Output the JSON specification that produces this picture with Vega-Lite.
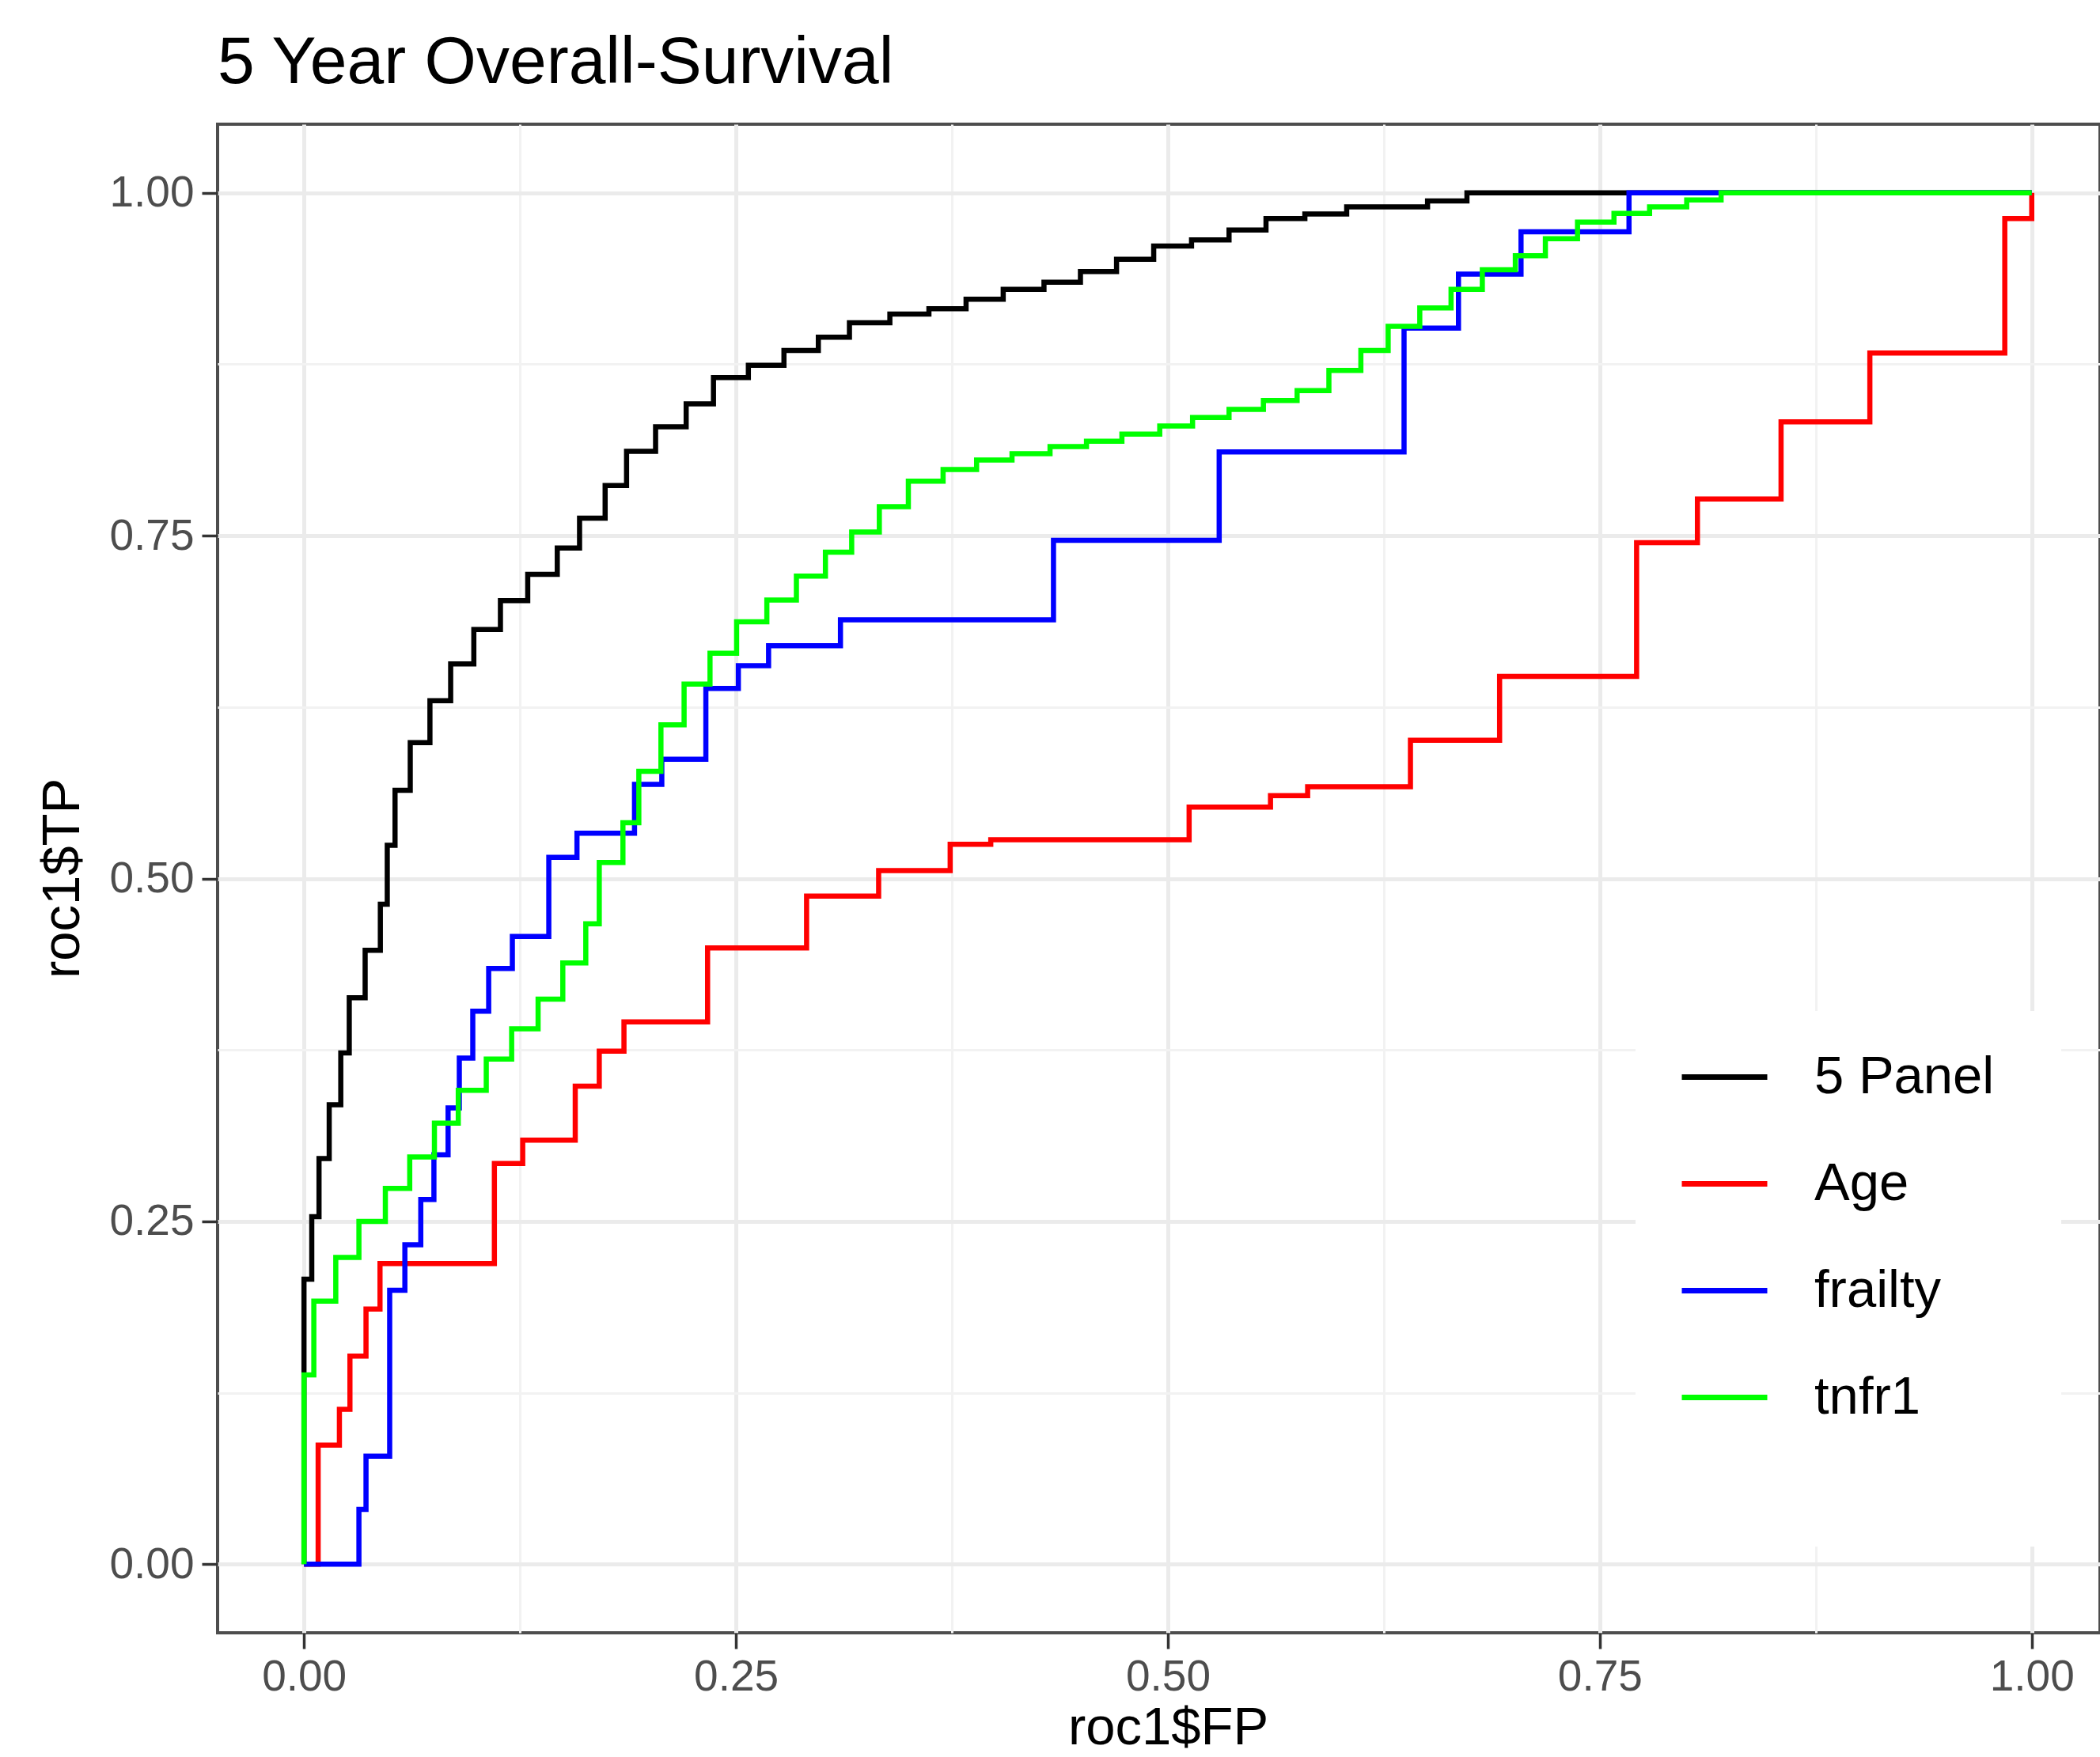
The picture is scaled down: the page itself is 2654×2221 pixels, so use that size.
{
  "$schema": "https://vega.github.io/schema/vega-lite/v6.json",
  "width": 2379,
  "height": 1907,
  "autosize": {"type": "none"},
  "padding": {"left": 275, "top": 157, "right": 0, "bottom": 157},
  "background": "white",
  "title": {"text": "5 Year Overall-Survival", "anchor": "start", "frame": "group", "font": "Liberation Sans", "fontSize": 84, "fontWeight": "normal", "color": "#000000", "baseline": "alphabetic", "offset": -32},
  "data": {"values": [
    {"s":"5 Panel","i":0,"fp":0,"tp":0},
    {"s":"5 Panel","i":1,"fp":0,"tp":0.2078},
    {"s":"5 Panel","i":2,"fp":0.0045,"tp":0.2534},
    {"s":"5 Panel","i":3,"fp":0.0087,"tp":0.2958},
    {"s":"5 Panel","i":4,"fp":0.0146,"tp":0.335},
    {"s":"5 Panel","i":5,"fp":0.0213,"tp":0.3728},
    {"s":"5 Panel","i":6,"fp":0.0262,"tp":0.4131},
    {"s":"5 Panel","i":7,"fp":0.0354,"tp":0.4476},
    {"s":"5 Panel","i":8,"fp":0.0442,"tp":0.4813},
    {"s":"5 Panel","i":9,"fp":0.0482,"tp":0.5242},
    {"s":"5 Panel","i":10,"fp":0.0527,"tp":0.5643},
    {"s":"5 Panel","i":11,"fp":0.0615,"tp":0.599},
    {"s":"5 Panel","i":12,"fp":0.0729,"tp":0.6296},
    {"s":"5 Panel","i":13,"fp":0.0849,"tp":0.6565},
    {"s":"5 Panel","i":14,"fp":0.0983,"tp":0.6816},
    {"s":"5 Panel","i":15,"fp":0.1137,"tp":0.7026},
    {"s":"5 Panel","i":16,"fp":0.1295,"tp":0.7218},
    {"s":"5 Panel","i":17,"fp":0.1466,"tp":0.741},
    {"s":"5 Panel","i":18,"fp":0.1595,"tp":0.7628},
    {"s":"5 Panel","i":19,"fp":0.1743,"tp":0.7866},
    {"s":"5 Panel","i":20,"fp":0.1867,"tp":0.8115},
    {"s":"5 Panel","i":21,"fp":0.2035,"tp":0.8294},
    {"s":"5 Panel","i":22,"fp":0.2212,"tp":0.8461},
    {"s":"5 Panel","i":23,"fp":0.237,"tp":0.8653},
    {"s":"5 Panel","i":24,"fp":0.2572,"tp":0.8742},
    {"s":"5 Panel","i":25,"fp":0.2778,"tp":0.885},
    {"s":"5 Panel","i":26,"fp":0.2977,"tp":0.8947},
    {"s":"5 Panel","i":27,"fp":0.3157,"tp":0.9052},
    {"s":"5 Panel","i":28,"fp":0.3391,"tp":0.9116},
    {"s":"5 Panel","i":29,"fp":0.3617,"tp":0.9155},
    {"s":"5 Panel","i":30,"fp":0.3832,"tp":0.9224},
    {"s":"5 Panel","i":31,"fp":0.4047,"tp":0.9296},
    {"s":"5 Panel","i":32,"fp":0.4283,"tp":0.9348},
    {"s":"5 Panel","i":33,"fp":0.4494,"tp":0.9425},
    {"s":"5 Panel","i":34,"fp":0.4703,"tp":0.9515},
    {"s":"5 Panel","i":35,"fp":0.4918,"tp":0.9611},
    {"s":"5 Panel","i":36,"fp":0.5137,"tp":0.9657},
    {"s":"5 Panel","i":37,"fp":0.5354,"tp":0.9729},
    {"s":"5 Panel","i":38,"fp":0.5568,"tp":0.9812},
    {"s":"5 Panel","i":39,"fp":0.5793,"tp":0.9845},
    {"s":"5 Panel","i":40,"fp":0.6035,"tp":0.9897},
    {"s":"5 Panel","i":41,"fp":0.6503,"tp":0.994},
    {"s":"5 Panel","i":42,"fp":0.6731,"tp":1.0},
    {"s":"5 Panel","i":43,"fp":1.0,"tp":1.0},
    {"s":"Age","i":0,"fp":0,"tp":0},
    {"s":"Age","i":1,"fp":0.0082,"tp":0.0868},
    {"s":"Age","i":2,"fp":0.0205,"tp":0.113},
    {"s":"Age","i":3,"fp":0.0266,"tp":0.1518},
    {"s":"Age","i":4,"fp":0.0359,"tp":0.186},
    {"s":"Age","i":5,"fp":0.044,"tp":0.2192},
    {"s":"Age","i":6,"fp":0.1102,"tp":0.2922},
    {"s":"Age","i":7,"fp":0.1266,"tp":0.3092},
    {"s":"Age","i":8,"fp":0.157,"tp":0.3486},
    {"s":"Age","i":9,"fp":0.1709,"tp":0.3741},
    {"s":"Age","i":10,"fp":0.1852,"tp":0.3955},
    {"s":"Age","i":11,"fp":0.2336,"tp":0.4494},
    {"s":"Age","i":12,"fp":0.2909,"tp":0.4872},
    {"s":"Age","i":13,"fp":0.3326,"tp":0.5057},
    {"s":"Age","i":14,"fp":0.374,"tp":0.525},
    {"s":"Age","i":15,"fp":0.3975,"tp":0.5283},
    {"s":"Age","i":16,"fp":0.5123,"tp":0.552},
    {"s":"Age","i":17,"fp":0.5594,"tp":0.5604},
    {"s":"Age","i":18,"fp":0.5809,"tp":0.5669},
    {"s":"Age","i":19,"fp":0.6404,"tp":0.6008},
    {"s":"Age","i":20,"fp":0.692,"tp":0.6474},
    {"s":"Age","i":21,"fp":0.7713,"tp":0.7448},
    {"s":"Age","i":22,"fp":0.8065,"tp":0.7768},
    {"s":"Age","i":23,"fp":0.8549,"tp":0.833},
    {"s":"Age","i":24,"fp":0.9063,"tp":0.8832},
    {"s":"Age","i":25,"fp":0.9844,"tp":0.9812},
    {"s":"Age","i":26,"fp":1.0,"tp":1.0},
    {"s":"frailty","i":0,"fp":0,"tp":0},
    {"s":"frailty","i":1,"fp":0.0318,"tp":0.04},
    {"s":"frailty","i":2,"fp":0.0359,"tp":0.0788},
    {"s":"frailty","i":3,"fp":0.0496,"tp":0.1998},
    {"s":"frailty","i":4,"fp":0.0584,"tp":0.2329},
    {"s":"frailty","i":5,"fp":0.0676,"tp":0.266},
    {"s":"frailty","i":6,"fp":0.0752,"tp":0.2986},
    {"s":"frailty","i":7,"fp":0.0834,"tp":0.3327},
    {"s":"frailty","i":8,"fp":0.0899,"tp":0.369},
    {"s":"frailty","i":9,"fp":0.0977,"tp":0.4032},
    {"s":"frailty","i":10,"fp":0.1069,"tp":0.4344},
    {"s":"frailty","i":11,"fp":0.1206,"tp":0.4577},
    {"s":"frailty","i":12,"fp":0.1417,"tp":0.5154},
    {"s":"frailty","i":13,"fp":0.158,"tp":0.533},
    {"s":"frailty","i":14,"fp":0.1913,"tp":0.5687},
    {"s":"frailty","i":15,"fp":0.2071,"tp":0.5869},
    {"s":"frailty","i":16,"fp":0.2326,"tp":0.6386},
    {"s":"frailty","i":17,"fp":0.2514,"tp":0.6552},
    {"s":"frailty","i":18,"fp":0.2689,"tp":0.6698},
    {"s":"frailty","i":19,"fp":0.3105,"tp":0.6886},
    {"s":"frailty","i":20,"fp":0.4338,"tp":0.7466},
    {"s":"frailty","i":21,"fp":0.5297,"tp":0.8111},
    {"s":"frailty","i":22,"fp":0.6367,"tp":0.9013},
    {"s":"frailty","i":23,"fp":0.6682,"tp":0.9407},
    {"s":"frailty","i":24,"fp":0.7044,"tp":0.9716},
    {"s":"frailty","i":25,"fp":0.7669,"tp":1.0},
    {"s":"frailty","i":26,"fp":1.0,"tp":1.0},
    {"s":"tnfr1","i":0,"fp":0,"tp":0},
    {"s":"tnfr1","i":1,"fp":0,"tp":0.1381},
    {"s":"tnfr1","i":2,"fp":0.0057,"tp":0.1918},
    {"s":"tnfr1","i":3,"fp":0.0184,"tp":0.2237},
    {"s":"tnfr1","i":4,"fp":0.0318,"tp":0.25},
    {"s":"tnfr1","i":5,"fp":0.0471,"tp":0.274},
    {"s":"tnfr1","i":6,"fp":0.0612,"tp":0.297},
    {"s":"tnfr1","i":7,"fp":0.0755,"tp":0.3216},
    {"s":"tnfr1","i":8,"fp":0.0893,"tp":0.3455},
    {"s":"tnfr1","i":9,"fp":0.1055,"tp":0.3684},
    {"s":"tnfr1","i":10,"fp":0.1202,"tp":0.3904},
    {"s":"tnfr1","i":11,"fp":0.1355,"tp":0.412},
    {"s":"tnfr1","i":12,"fp":0.1498,"tp":0.4384},
    {"s":"tnfr1","i":13,"fp":0.1631,"tp":0.467},
    {"s":"tnfr1","i":14,"fp":0.1709,"tp":0.5117},
    {"s":"tnfr1","i":15,"fp":0.1846,"tp":0.5407},
    {"s":"tnfr1","i":16,"fp":0.1938,"tp":0.5781},
    {"s":"tnfr1","i":17,"fp":0.2066,"tp":0.612},
    {"s":"tnfr1","i":18,"fp":0.22,"tp":0.6417},
    {"s":"tnfr1","i":19,"fp":0.235,"tp":0.6642},
    {"s":"tnfr1","i":20,"fp":0.2504,"tp":0.6872},
    {"s":"tnfr1","i":21,"fp":0.2679,"tp":0.7031},
    {"s":"tnfr1","i":22,"fp":0.285,"tp":0.7205},
    {"s":"tnfr1","i":23,"fp":0.3018,"tp":0.738},
    {"s":"tnfr1","i":24,"fp":0.317,"tp":0.7526},
    {"s":"tnfr1","i":25,"fp":0.333,"tp":0.7711},
    {"s":"tnfr1","i":26,"fp":0.3498,"tp":0.7897},
    {"s":"tnfr1","i":27,"fp":0.3699,"tp":0.7982},
    {"s":"tnfr1","i":28,"fp":0.3893,"tp":0.8052},
    {"s":"tnfr1","i":29,"fp":0.4098,"tp":0.8098},
    {"s":"tnfr1","i":30,"fp":0.4318,"tp":0.815},
    {"s":"tnfr1","i":31,"fp":0.4529,"tp":0.8188},
    {"s":"tnfr1","i":32,"fp":0.4734,"tp":0.824},
    {"s":"tnfr1","i":33,"fp":0.4953,"tp":0.8299},
    {"s":"tnfr1","i":34,"fp":0.5143,"tp":0.8361},
    {"s":"tnfr1","i":35,"fp":0.5354,"tp":0.842},
    {"s":"tnfr1","i":36,"fp":0.5553,"tp":0.8485},
    {"s":"tnfr1","i":37,"fp":0.5748,"tp":0.8557},
    {"s":"tnfr1","i":38,"fp":0.5932,"tp":0.8704},
    {"s":"tnfr1","i":39,"fp":0.6117,"tp":0.8851},
    {"s":"tnfr1","i":40,"fp":0.6275,"tp":0.9026},
    {"s":"tnfr1","i":41,"fp":0.6458,"tp":0.916},
    {"s":"tnfr1","i":42,"fp":0.6639,"tp":0.9296},
    {"s":"tnfr1","i":43,"fp":0.682,"tp":0.9438},
    {"s":"tnfr1","i":44,"fp":0.7011,"tp":0.9541},
    {"s":"tnfr1","i":45,"fp":0.7185,"tp":0.9665},
    {"s":"tnfr1","i":46,"fp":0.7371,"tp":0.9786},
    {"s":"tnfr1","i":47,"fp":0.7582,"tp":0.985},
    {"s":"tnfr1","i":48,"fp":0.7788,"tp":0.9897},
    {"s":"tnfr1","i":49,"fp":0.8003,"tp":0.9948},
    {"s":"tnfr1","i":50,"fp":0.8202,"tp":1.0},
    {"s":"tnfr1","i":51,"fp":1.0,"tp":1.0}
  ]},
  "mark": {"type": "line", "interpolate": "step-after", "strokeWidth": 6.5, "clip": true},
  "encoding": {
    "x": {
      "field": "fp", "type": "quantitative",
      "scale": {"domain": [-0.05, 1.0395], "nice": false, "zero": false},
      "axis": {
        "title": "roc1$FP",
        "values": [0, 0.125, 0.25, 0.375, 0.5, 0.625, 0.75, 0.875, 1],
        "labelPadding": 9,
        "titleX": 1201, "titleY": 140, "titleBaseline": "alphabetic", "titleAlign": "center"
      }
    },
    "y": {
      "field": "tp", "type": "quantitative",
      "scale": {"domain": [-0.05, 1.05], "nice": false, "zero": false},
      "axis": {
        "title": "roc1$TP",
        "values": [0, 0.125, 0.25, 0.375, 0.5, 0.625, 0.75, 0.875, 1],
        "labelPadding": 10,
        "titleX": -176, "titleY": 953, "titleAngle": 270, "titleBaseline": "alphabetic", "titleAlign": "center"
      }
    },
    "color": {
      "field": "s", "type": "nominal",
      "scale": {"domain": ["5 Panel", "Age", "frailty", "tnfr1"], "range": ["#000000", "#FF0000", "#0000FF", "#00FF00"]},
      "legend": {
        "title": "\u00a0", "titleOrient": "right", "titleAnchor": "start", "titleBaseline": "top",
        "titleFontSize": 632, "titlePadding": 59,
        "orient": "none", "legendX": 1792, "legendY": 1121,
        "fillColor": "white", "padding": 26,
        "symbolType": "stroke", "symbolSize": 11664, "symbolStrokeWidth": 7,
        "symbolOffset": 29, "labelOffset": 56,
        "labelFont": "Liberation Sans", "labelFontSize": 67, "labelColor": "#000000",
        "rowPadding": 44, "labelLimit": 0
      }
    },
    "order": {"field": "i", "type": "quantitative"}
  },
  "config": {
    "view": {"stroke": "#4d4d4d", "strokeWidth": 4},
    "axis": {
      "domain": false,
      "grid": true,
      "gridColor": {"condition": {"test": "round(datum.value*8)%2==1", "value": "#F2F2F2"}, "value": "#EBEBEB"},
      "gridWidth": {"condition": {"test": "round(datum.value*8)%2==1", "value": 3}, "value": 5},
      "tickColor": {"condition": {"test": "round(datum.value*8)%2==1", "value": "transparent"}, "value": "#333333"},
      "tickSize": 20,
      "tickWidth": 3.5,
      "labelExpr": "round(datum.value*8)%2==1 ? '' : format(datum.value, '.2f')",
      "labelFont": "Liberation Sans",
      "labelFontSize": 55,
      "labelColor": "#4D4D4D",
      "labelOverlap": false,
      "labelFlush": false,
      "titleFont": "Liberation Sans",
      "titleFontSize": 67,
      "titleFontWeight": "normal",
      "titleColor": "#000000"
    }
  }
}
